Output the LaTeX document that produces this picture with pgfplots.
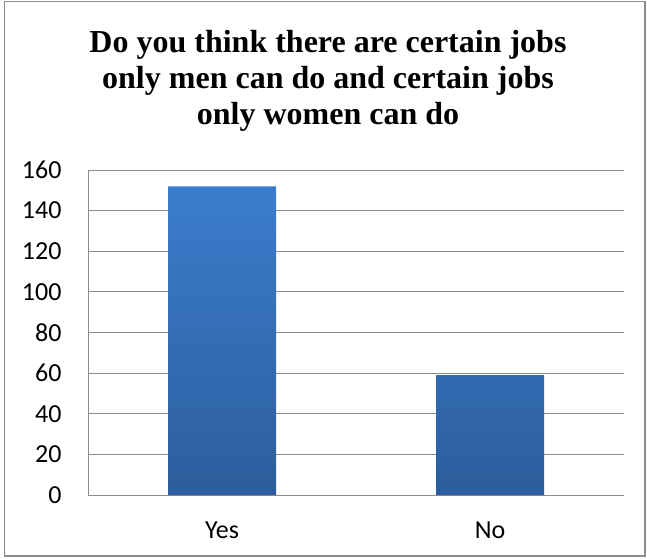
\documentclass[border=0pt]{standalone}
\usepackage{pgfplots}
\pgfplotsset{compat=1.18}
\usepackage{fontspec}
\setmainfont{Liberation Serif}
\newfontfamily\calfont{Carlito}
\definecolor{gridgray}{HTML}{8C8C8C}
\definecolor{bartop}{HTML}{3B7DCD}
\definecolor{barbot}{HTML}{2C5D9C}
\begin{document}
\begin{tikzpicture}[x=1pt,y=1pt]
\path[use as bounding box] (0,0) rectangle (647,558);
\draw[gridgray, line width=1.2pt] (4.5,2) rectangle (645,556.5);
\node[align=center, font=\bfseries\fontsize{32}{36}\selectfont] at (328,477)
  {Do you think there are certain jobs\\only men can do and certain jobs\\only women can do};
\begin{axis}[
  at={(88pt,63pt)}, anchor=south west,
  scale only axis, width=536pt, height=325pt,
  xmin=-0.5, xmax=1.5, ymin=0, ymax=160,
  ytick distance=20,
  xtick=data, xticklabels={Yes,No},
  axis lines*=left, axis line style={gridgray, line width=0.9pt, -},
  ymajorgrids, grid style={gridgray, line width=0.9pt},
  major tick length=0pt,
  /pgf/number format/assume math mode=true,
  ticklabel style={font=\calfont\fontsize{26}{30}\selectfont, text=black},
  yticklabel style={xshift=-23pt},
  xticklabel style={yshift=-23pt},
  clip=false,
]
\addplot[ybar, bar width=108pt, draw=none, top color=bartop, bottom color=barbot]
  coordinates {(0,152) (1,59)};
\end{axis}
\end{tikzpicture}
\end{document}
